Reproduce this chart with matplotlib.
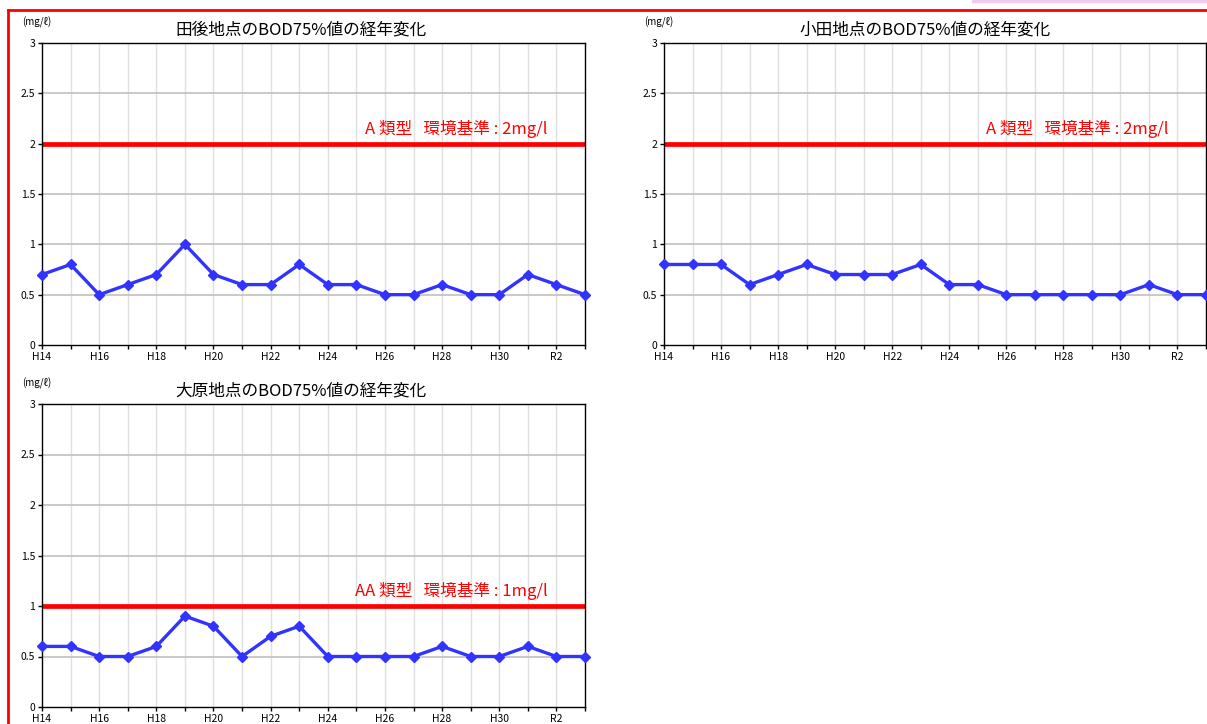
import matplotlib.pyplot as plt
from matplotlib.lines import Line2D
from matplotlib.patches import Rectangle

plt.rcParams["font.family"] = ["Noto Sans CJK JP", "DejaVu Sans"]

# ========= データ =========
years = ["H14", "H15", "H16", "H17", "H18", "H19", "H20", "H21", "H22", "H23",
         "H24", "H25", "H26", "H27", "H28", "H29", "H30", "R1", "R2", "R3"]
tick_labels = ["H14", "H16", "H18", "H20", "H22", "H24", "H26", "H28", "H30", "R2"]
y_ticks = [0, 0.5, 1, 1.5, 2, 2.5, 3]
y_tick_labels = ["0", "0.5", "1", "1.5", "2", "2.5", "3"]

tago = [0.7, 0.8, 0.5, 0.6, 0.7, 1.0, 0.7, 0.6, 0.6, 0.8,
        0.6, 0.6, 0.5, 0.5, 0.6, 0.5, 0.5, 0.7, 0.6, 0.5]
oda = [0.8, 0.8, 0.8, 0.6, 0.7, 0.8, 0.7, 0.7, 0.7, 0.8,
       0.6, 0.6, 0.5, 0.5, 0.5, 0.5, 0.5, 0.6, 0.5, 0.5]
ohara = [0.6, 0.6, 0.5, 0.5, 0.6, 0.9, 0.8, 0.5, 0.7, 0.8,
         0.5, 0.5, 0.5, 0.5, 0.6, 0.5, 0.5, 0.6, 0.5, 0.5]

titles = ["田後地点のBOD75%値の経年変化", "小田地点のBOD75%値の経年変化", "大原地点のBOD75%値の経年変化"]
standards = [2, 2, 1]
standard_texts = ["A 類型   環境基準 : 2mg/l", "A 類型   環境基準 : 2mg/l", "AA 類型   環境基準 : 1mg/l"]

W, H = 1207, 724
fig = plt.figure(figsize=(W / 100, H / 100), dpi=100)


def px_axes(left, top, right, bottom):
    return fig.add_axes([left / W, 1 - bottom / H, (right - left) / W, (bottom - top) / H])


def draw_chart(ax, values, std, std_text):
    x = list(range(len(years)))
    ax.set_xlim(0, len(years) - 1)
    ax.set_ylim(0, 3)
    for xi in x[1:-1]:
        ax.axvline(xi, color="#e0e0e0", lw=1, zorder=0)
    for yv in y_ticks[1:-1]:
        ax.axhline(yv, color="#c0c0c0", lw=1.2, zorder=0)
    ax.axhline(std, color="#ff0000", lw=3.4, zorder=2)
    ax.plot(x, values, color="#3333ff", lw=2.4, marker="D", ms=5.5,
            clip_on=False, zorder=3)
    ax.text(17.7, std + 0.15, std_text, color="#ff0000", fontsize=12,
            ha="right", va="center")
    ax.set_xticks(x)
    ax.set_xticklabels([years[i] if years[i] in tick_labels else "" for i in x])
    ax.set_yticks(y_ticks)
    ax.set_yticklabels(y_tick_labels)
    ax.tick_params(axis="both", labelsize=7.5, length=3, width=1, pad=2)
    for sp in ax.spines.values():
        sp.set_color("black")
        sp.set_linewidth(1)


positions = [(42, 43, 585, 345), (664, 43, 1206, 345), (42, 404, 585, 707)]
title_x = [301, 925, 301]
series = [tago, oda, ohara]
for pos, tx, vals, t, s, st in zip(positions, title_x, series, titles, standards, standard_texts):
    ax = px_axes(*pos)
    draw_chart(ax, vals, s, st)
    fig.text(tx / W, 1 - (pos[1] - 13) / H, t, fontsize=12, ha="center", va="center")
    fig.text((pos[0] - 20) / W, 1 - (pos[1] - 21) / H, "(mg/ℓ)",
             fontsize=7, ha="left", va="center")

# 外枠
fig.add_artist(Line2D([8 / W, 8 / W], [0, 1 - 10 / H], color="#ff0000", lw=2))
fig.add_artist(Line2D([8 / W, 1], [1 - 10 / H, 1 - 10 / H], color="#ff0000", lw=2))
fig.add_artist(Rectangle((972 / W, 1 - 2 / H), (W - 972) / W, 2 / H,
                         color="#f5c8f0", transform=fig.transFigure))

fig.savefig("out.png", dpi=100)
